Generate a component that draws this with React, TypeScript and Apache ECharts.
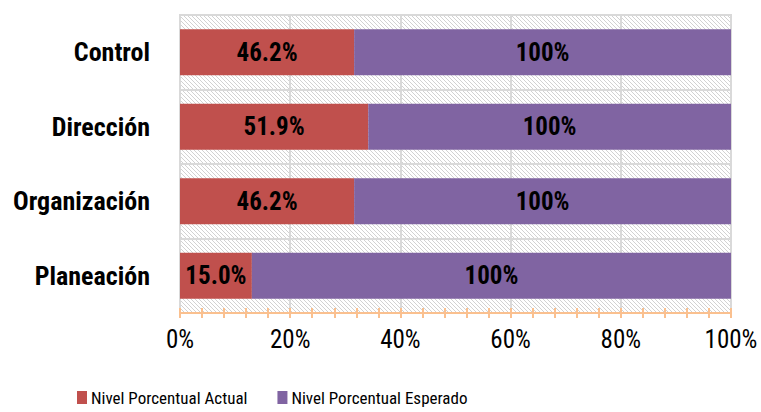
import React, { useEffect, useRef } from 'react';
import * as echarts from 'echarts';

const categories = ['Planeación', 'Organización', 'Dirección', 'Control'];
const actualValues = [15.0, 46.2, 51.9, 46.2];
const expectedValues = [100, 100, 100, 100];
const seriesNames = ['Nivel Porcentual Actual', 'Nivel Porcentual Esperado'];

const FONT = "'Roboto Condensed', 'Open Sans Condensed', 'Liberation Sans', sans-serif";
const RED = '#C0504D';
const PURPLE = '#8064A2';
const ORANGE = '#FAC08F';
const GRIDGRAY = '#D9D9D9';

function makeHatch(): HTMLCanvasElement {
  const c = document.createElement('canvas');
  c.width = 4;
  c.height = 4;
  const ctx = c.getContext('2d')!;
  ctx.fillStyle = '#ffffff';
  ctx.fillRect(0, 0, 4, 4);
  ctx.fillStyle = '#d2d2d2';
  for (let i = 0; i < 4; i++) ctx.fillRect(i, i, 1, 1);
  return c;
}

export default function App() {
  const ref = useRef<HTMLDivElement>(null);
  useEffect(() => {
    if (!ref.current) return;
    const chart = echarts.init(ref.current, undefined, { renderer: 'svg' });
    const totals = actualValues.map((a, i) => a + expectedValues[i]);
    const actualData = actualValues.map((a, i) => ({ value: (a / totals[i]) * 100, raw: a }));
    const expectedData = expectedValues.map((b, i) => ({ value: (b / totals[i]) * 100, raw: b }));
    const labelStyle = {
      show: true,
      position: 'inside',
      color: '#000',
      fontFamily: FONT,
      fontWeight: 'bold',
      fontSize: 25,
    };
    const axisCommon = {
      type: 'value',
      min: 0,
      max: 100,
      interval: 20,
      position: 'bottom',
      gridIndex: 0,
    };
    chart.setOption({
      animation: false,
      grid: {
        left: 180,
        right: 30,
        top: 15,
        bottom: 99,
        outerBoundsMode: 'none',
        containLabel: false,
        show: true,
        backgroundColor: { image: makeHatch(), repeat: 'repeat', imageWidth: 4, imageHeight: 4 },
        borderColor: GRIDGRAY,
        borderWidth: 2,
      },
      legend: {
        left: 77,
        top: 389,
        padding: 0,
        itemWidth: 10,
        itemHeight: 13,
        itemGap: 30,
        icon: 'rect',
        textStyle: { fontFamily: FONT, fontSize: 17, color: '#000', padding: [0, 0, 0, -1] },
        data: seriesNames,
      },
      xAxis: [
        {
          ...axisCommon,
          axisLine: { show: true, lineStyle: { color: ORANGE, width: 2 } },
          axisTick: { show: true, length: 5, lineStyle: { color: ORANGE, width: 2 } },
          minorTick: { show: true, splitNumber: 5, length: 5, lineStyle: { color: ORANGE, width: 2 } },
          axisLabel: {
            fontFamily: FONT,
            fontSize: 25,
            color: '#000',
            margin: 14,
            formatter: (v: number) => `${v}%`,
          },
          splitLine: { show: true, lineStyle: { color: GRIDGRAY, width: 2 } },
        },
        {
          ...axisCommon,
          axisLine: { show: false },
          axisTick: { show: true, inside: true, length: 5, lineStyle: { color: ORANGE, width: 2 } },
          minorTick: { show: true, splitNumber: 5, length: 5, lineStyle: { color: ORANGE, width: 2 } },
          axisLabel: { show: false },
          splitLine: { show: false },
        },
      ],
      yAxis: {
        type: 'category',
        data: categories,
        axisLine: { show: false },
        axisTick: { show: false },
        axisLabel: {
          fontFamily: FONT,
          fontWeight: 'bold',
          fontSize: 26,
          color: '#000',
          margin: 30,
        },
        splitLine: { show: true, lineStyle: { color: GRIDGRAY, width: 2 } },
      },
      series: [
        {
          name: seriesNames[0],
          type: 'bar',
          stack: 'total',
          xAxisIndex: 0,
          barWidth: '62%',
          itemStyle: { color: RED },
          label: { ...labelStyle, formatter: (p: any) => `${p.data.raw.toFixed(1)}%` },
          data: actualData,
        },
        {
          name: seriesNames[1],
          type: 'bar',
          stack: 'total',
          xAxisIndex: 0,
          barWidth: '62%',
          itemStyle: { color: PURPLE },
          label: { ...labelStyle, formatter: (p: any) => `${p.data.raw}%` },
          data: expectedData,
        },
      ],
    });
    return () => chart.dispose();
  }, []);
  return <div ref={ref} style={{ width: 761, height: 412, position: 'absolute', left: 0, top: 0 }} />;
}
